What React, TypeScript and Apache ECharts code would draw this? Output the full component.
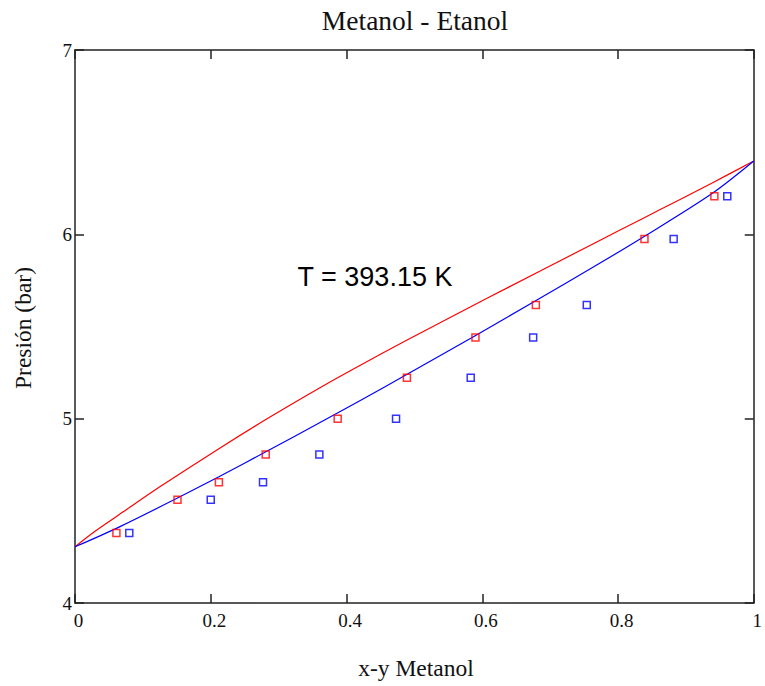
import React, { useEffect, useRef } from "react";
import * as echarts from "echarts";

// Measured VLE points: liquid (x) and vapour (y) compositions at each pressure
const pressureBar = [4.38, 4.56, 4.655, 4.805, 5.0, 5.222, 5.44, 5.617, 5.975, 6.206];
const liquidX = [0.061, 0.151, 0.212, 0.281, 0.387, 0.489, 0.59, 0.679, 0.839, 0.942];
const vaporY = [0.08, 0.2, 0.277, 0.36, 0.473, 0.583, 0.675, 0.754, 0.882, 0.961];

// Blue model curve
const blueCurveX = [0, 0.061, 0.146, 0.212, 0.286, 0.359, 0.417, 0.49, 0.589, 0.678, 0.768, 0.838, 0.938, 1.0];
const blueCurveP = [4.305, 4.405, 4.56, 4.685, 4.83, 4.975, 5.092, 5.242, 5.449, 5.638, 5.832, 5.987, 6.22, 6.398];

// Red model curve
const redCurveX = [0, 0.027, 0.076, 0.125, 0.212, 0.286, 0.359, 0.417, 0.49, 0.607, 0.768, 0.838, 0.885, 0.938, 1.0];
const redCurveP = [4.305, 4.383, 4.507, 4.63, 4.837, 5.006, 5.164, 5.283, 5.428, 5.653, 5.957, 6.089, 6.177, 6.277, 6.398];

const titleText = "Metanol - Etanol";
const xName = "x-y Metanol";
const yName = "Presión (bar)";
const noteText = "T = 393.15 K";

const serif = "'Liberation Serif', 'Times New Roman', serif";
const sans = "'Liberation Sans', Arial, sans-serif";
const ink = "#111";
const frame = "#222";

const zip = (xs: number[], ys: number[]) => xs.map((x, i) => [x, ys[i]]);

export default function App() {
  const ref = useRef<HTMLDivElement>(null);

  useEffect(() => {
    if (!ref.current) return;
    const chart = echarts.init(ref.current, undefined, { renderer: "svg" });

    const tick = { show: true, inside: true, length: 9, lineStyle: { color: frame, width: 1.5 } };
    const line = { show: true, onZero: false, lineStyle: { color: frame, width: 1.5 } };

    chart.setOption({
      animation: false,
      backgroundColor: "#fff",
      grid: { left: 75, top: 50, width: 683, height: 553, containLabel: false },
      xAxis: [
        {
          type: "value",
          min: 0,
          max: 1,
          interval: 0.2,
          position: "bottom",
          axisLine: line,
          axisTick: tick,
          splitLine: { show: false },
          axisLabel: {
            color: ink,
            fontFamily: serif,
            fontSize: 19,
            margin: 8,
            padding: [0, 0, 0, 7],
          },
        },
        {
          type: "value",
          min: 0,
          max: 1,
          interval: 0.2,
          position: "top",
          axisLine: line,
          axisTick: tick,
          splitLine: { show: false },
          axisLabel: { show: false },
        },
      ],
      yAxis: [
        {
          type: "value",
          min: 4,
          max: 7,
          interval: 1,
          position: "left",
          axisLine: line,
          axisTick: tick,
          splitLine: { show: false },
          axisLabel: { color: ink, fontFamily: serif, fontSize: 19, margin: 3 },
        },
        {
          type: "value",
          min: 4,
          max: 7,
          interval: 1,
          position: "right",
          axisLine: line,
          axisTick: tick,
          splitLine: { show: false },
          axisLabel: { show: false },
        },
      ],
      series: [
        {
          type: "line",
          data: zip(redCurveX, redCurveP),
          showSymbol: false,
          smooth: 0.3,
          lineStyle: { color: "#ff0000", width: 1.2 },
          z: 2,
        },
        {
          type: "line",
          data: zip(blueCurveX, blueCurveP),
          showSymbol: false,
          smooth: 0.3,
          lineStyle: { color: "#0000ff", width: 1.2 },
          z: 2,
        },
        {
          type: "scatter",
          data: zip(liquidX, pressureBar),
          symbol: "rect",
          symbolSize: 7,
          itemStyle: { color: "rgba(0,0,0,0)", borderColor: "#ff0000", borderWidth: 1.5 },
          z: 3,
        },
        {
          type: "scatter",
          data: zip(vaporY, pressureBar),
          symbol: "rect",
          symbolSize: 7,
          itemStyle: { color: "rgba(0,0,0,0)", borderColor: "#0000ff", borderWidth: 1.5 },
          z: 3,
        },
      ],
      graphic: [
        {
          type: "text",
          x: 415,
          y: 20,
          style: {
            text: titleText,
            fill: ink,
            font: `27.5px ${serif}`,
            textAlign: "center",
            textVerticalAlign: "middle",
          },
        },
        {
          type: "text",
          x: 416,
          y: 668,
          style: {
            text: xName,
            fill: ink,
            font: `23.5px ${serif}`,
            textAlign: "center",
            textVerticalAlign: "middle",
          },
        },
        {
          type: "text",
          x: 23,
          y: 328,
          rotation: Math.PI / 2,
          style: {
            text: yName,
            fill: ink,
            font: `23.5px ${serif}`,
            textAlign: "center",
            textVerticalAlign: "middle",
          },
        },
        {
          type: "text",
          x: 375,
          y: 277,
          style: {
            text: noteText,
            fill: "#000",
            font: `27px ${sans}`,
            textAlign: "center",
            textVerticalAlign: "middle",
          },
        },
      ],
    });

    return () => chart.dispose();
  }, []);

  return (
    <div
      ref={ref}
      style={{ position: "fixed", left: 0, top: 0, width: 765, height: 686, background: "#fff" }}
    />
  );
}
